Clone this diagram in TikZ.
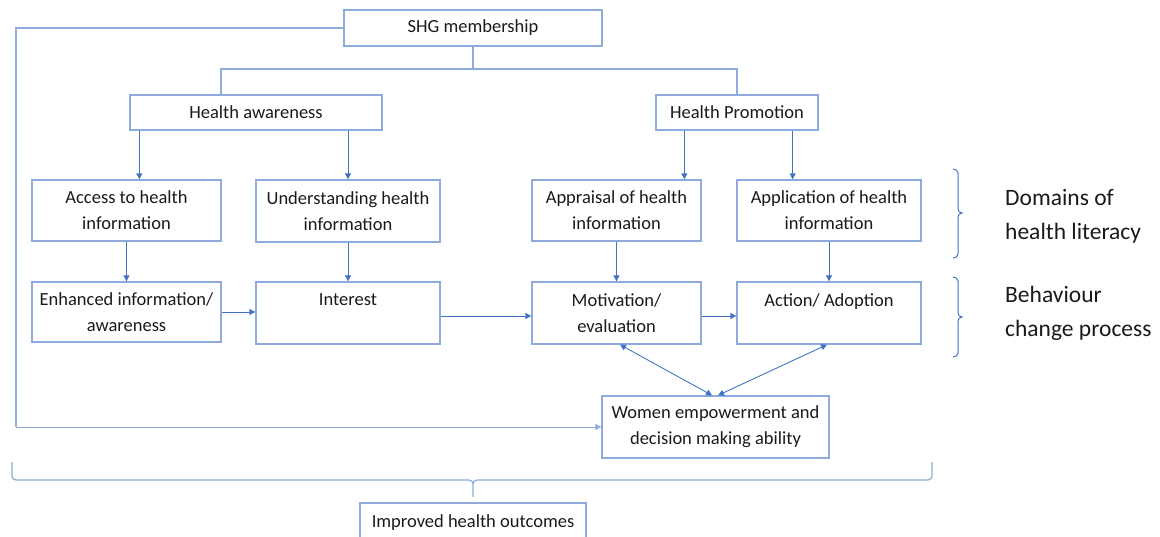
\documentclass[tikz,border=0pt]{standalone}
\usepackage{fontspec}
\setmainfont{Carlito}
\usetikzlibrary{arrows.meta}
\definecolor{boxc}{HTML}{8FAADC}
\definecolor{arrc}{HTML}{4472C4}
\definecolor{txtc}{HTML}{1A1A1A}
\begin{document}
\begin{tikzpicture}[x=1pt,y=-1pt,
  bx/.style={draw=boxc,line width=1.3pt,align=center,inner sep=0pt,text=txtc,
    font=\fontsize{18.5}{26}\selectfont},
  lnk/.style={draw=boxc,line width=1.2pt},
  arr/.style={draw=arrc,line width=0.9pt,-{Triangle[length=6pt,width=6pt]}},
  darr/.style={draw=arrc,line width=0.9pt,{Triangle[length=6pt,width=6pt]}-{Triangle[length=6pt,width=6pt]}},
  brc/.style={draw=arrc,line width=1pt},
  lbl/.style={anchor=west,align=left,inner sep=0pt,text=txtc,font=\fontsize{23.5}{34}\selectfont}]
\useasboundingbox (0,0) rectangle (1160,537);
% boxes
\node[bx,minimum width=258pt,minimum height=36pt] (shg) at (473,28) {SHG membership};
\node[bx,minimum width=252pt,minimum height=35pt] (ha) at (256,112.5) {Health awareness};
\node[bx,minimum width=162pt,minimum height=35pt] (hp) at (737,112.5) {Health Promotion};
\node[bx,minimum width=189pt,minimum height=61pt] (acc) at (126.5,210.5) {Access to health\\information};
\node[bx,minimum width=184pt,minimum height=62pt] (und) at (348,211) {Understanding health\\information};
\node[bx,minimum width=169pt,minimum height=61pt] (app) at (616.5,210.5) {Appraisal of health\\information};
\node[bx,minimum width=184pt,minimum height=61pt] (apl) at (829,210.5) {Application of health\\information};
\node[bx,minimum width=189pt,minimum height=60pt] (enh) at (126.5,312) {Enhanced information/\\awareness};
\node[bx,minimum width=184pt,minimum height=62pt] (int) at (348,313) {Interest\\\mbox{}};
\node[bx,minimum width=169pt,minimum height=62pt] (mot) at (616.5,313) {Motivation/\\evaluation};
\node[bx,minimum width=184pt,minimum height=62pt] (act) at (829,313) {Action/ Adoption\\\mbox{}};
\node[bx,minimum width=227pt,minimum height=62pt] (wom) at (715.5,427) {Women empowerment and\\decision making ability};
\node[bx,minimum width=226pt,minimum height=62pt] (imp) at (473,534) {Improved health outcomes\\\mbox{}};
% side labels
\node[lbl] (dom) at (1005,216) {Domains of\\health literacy};
\node[lbl] (beh) at (1005,313) {Behaviour\\change process};
% tree from SHG
\coordinate (split) at (473,69);
\coordinate (hax) at (221,95);
\draw[lnk] (shg.south) -- (split);
\draw[lnk] (hax) |- (split) -| (hp.north);
% left loop
\coordinate (lcorner) at (16,427);
\draw[lnk] (shg.west) -| (lcorner);
\draw[arr,draw=boxc] (lcorner) -- (wom.west);
% vertical arrows
\draw[arr] ([xshift=10pt]ha.south west) -- ([xshift=10pt]ha.south west |- acc.north);
\draw[arr] (ha.south -| und.north) -- (und.north);
\draw[arr] ([xshift=29pt]hp.south west) -- ([xshift=29pt]hp.south west |- app.north);
\draw[arr] ([xshift=-26pt]hp.south east) -- ([xshift=-26pt]hp.south east |- apl.north);
\draw[arr] (acc.south) -- (enh.north);
\draw[arr] (und.south) -- (int.north);
\draw[arr] (app.south) -- (mot.north);
\draw[arr] (apl.south) -- (act.north);
% horizontal arrows
\draw[arr] (enh.east) -- (enh.east -| int.west);
\draw[arr] ([yshift=-3pt]int.east) -- ([yshift=-3pt]int.east -| mot.west);
\draw[arr] ([yshift=-3pt]mot.east) -- ([yshift=-3pt]mot.east -| act.west);
% double arrows
\draw[darr] ([xshift=3.5pt]mot.south) -- ([xshift=-3.5pt]wom.north);
\draw[darr] ([xshift=-2pt]act.south) -- ([xshift=2.5pt]wom.north);
% right braces
\draw[brc] (953,169) to[out=0,in=90] (958,173) -- (958,209) to[out=270,in=180] (962,213)
  to[out=180,in=90] (958,217) -- (958,254) to[out=270,in=0] (953,258);
\draw[brc] (953,277) to[out=0,in=90] (958,281) -- (958,313) to[out=270,in=180] (962,317)
  to[out=180,in=90] (958,321) -- (958,353) to[out=270,in=0] (953,357);
% bottom brace
\draw[lnk] (12,462) -- (12,476) to[out=270,in=180] (16,480) -- (469,480) to[out=0,in=90] (473,484)
  -- (473,497);
\draw[lnk] (473,484) to[out=90,in=180] (477,480) -- (928,480) to[out=0,in=270] (932,476) -- (932,462);
\end{tikzpicture}
\end{document}
